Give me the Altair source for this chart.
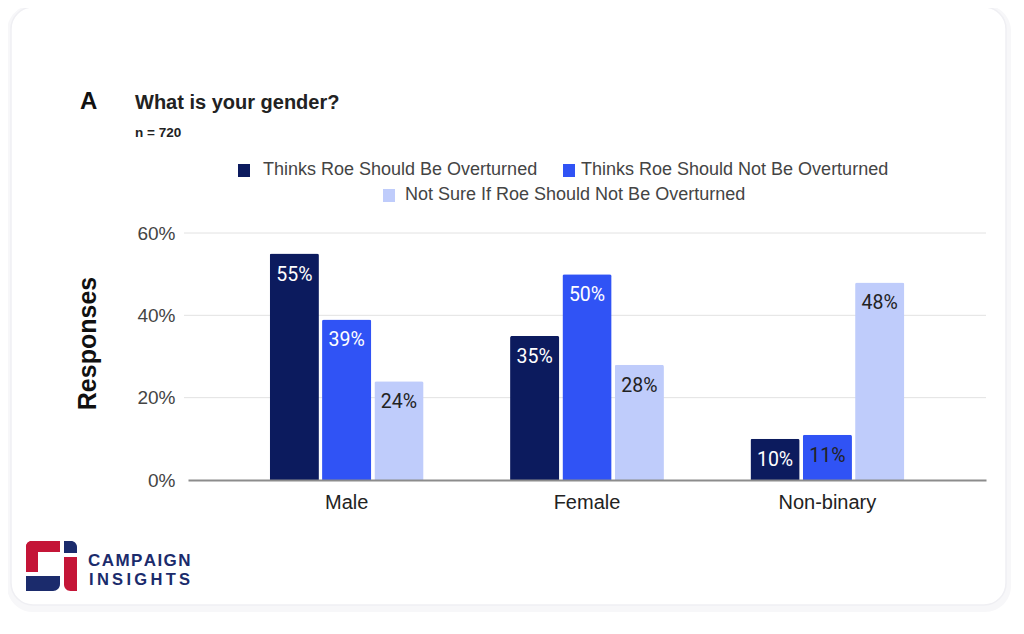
import altair as alt
import pandas as pd

# ---- data ----
genders = ["Male", "Female", "Non-binary"]
series = [
    "Thinks Roe Should Be Overturned",
    "Thinks Roe Should Not Be Overturned",
    "Not Sure If Roe Should Not Be Overturned",
]
overturned = [0.55, 0.35, 0.10]
not_overturned = [0.39, 0.50, 0.11]
not_sure = [0.24, 0.28, 0.48]
y_ticks = [0, 0.2, 0.4, 0.6]

# ---- styles ----
colors = ["#0c1b5e", "#3053f5", "#bfccfb"]
label_colors = {
    ("Male", 0): "#ffffff", ("Male", 1): "#ffffff", ("Male", 2): "#222222",
    ("Female", 0): "#ffffff", ("Female", 1): "#ffffff", ("Female", 2): "#222222",
    ("Non-binary", 0): "#ffffff", ("Non-binary", 1): "#222222", ("Non-binary", 2): "#222222",
}
FONT = "Liberation Sans"

rows = []
for si, vals in enumerate([overturned, not_overturned, not_sure]):
    for g, v in zip(genders, vals):
        rows.append({"gender": g, "series": series[si], "value": v,
                     "lab": label_colors[(g, si)]})
df = pd.DataFrame(rows)
grid_df = pd.DataFrame({"value": [t for t in y_ticks if t > 0]})
one = pd.DataFrame({"a": [0]})

W, H = 798, 247
OX, OY = 188, 233  # page position of plot origin


def px(x):
    return alt.value(x - OX)


def py(y):
    return alt.value(y - OY)


x_enc = alt.X(
    "gender:N", sort=genders,
    scale=alt.Scale(paddingInner=0.36, paddingOuter=0.34),
    axis=alt.Axis(title=None, labelAngle=0, labelFontSize=20, labelColor="#222222",
                  labelFont=FONT, labelPadding=12, ticks=False,
                  domainColor="#8c8c8c", domainWidth=2, zindex=1),
)
xoff = alt.XOffset("series:N", sort=series, scale=alt.Scale(paddingInner=0.06))
y_enc = alt.Y(
    "value:Q", scale=alt.Scale(domain=[0, 0.6], nice=False),
    axis=alt.Axis(values=y_ticks, format=".0%", grid=False, ticks=False, domain=False,
                  labelFontSize=19, labelColor="#444444", labelFont=FONT, labelPadding=13,
                  title="Responses", titleFontSize=25, titleFont=FONT, titleFontWeight="bold",
                  titleColor="#111111", titleAngle=-90, titleAlign="center",
                  titleBaseline="middle", titleX=-101, titleY=110, zindex=1),
)

# card background with faint shadow
shadow = alt.Chart(one).mark_rect(cornerRadius=26, fill="#f7f7f9").encode(
    x=px(7), x2=px(1011), y=py(5), y2=py(612))
card = alt.Chart(one).mark_rect(cornerRadius=22, fill="#ffffff", stroke="#efeff3",
                                strokeWidth=1.5).encode(
    x=px(11), x2=px(1006), y=py(7), y2=py(605))

grid = alt.Chart(grid_df).mark_rule(color="#e2e2e2", strokeWidth=1).encode(
    y=alt.Y("value:Q"), x=alt.value(-4), x2=alt.value(W))

bars = alt.Chart(df).mark_bar(cornerRadiusTopLeft=2, cornerRadiusTopRight=2).encode(
    x=x_enc, xOffset=xoff, y=y_enc,
    color=alt.Color("series:N", scale=alt.Scale(domain=series, range=colors), legend=None),
)

labels = alt.Chart(df).mark_text(baseline="alphabetic", dy=27, font="Roboto",
                                 fontSize=19.5, align="center").encode(
    x=alt.X("gender:N", sort=genders), xOffset=alt.XOffset("series:N", sort=series),
    y=alt.Y("value:Q"),
    text=alt.Text("value:Q", format=".0%"),
    color=alt.Color("lab:N", scale=None),
)


def txt(s, x, y, size, weight="normal", color="#222222", font=FONT, align="left"):
    return alt.Chart(one).mark_text(text=s, align=align, baseline="middle", fontSize=size,
                                    fontWeight=weight, color=color, font=font).encode(
        x=px(x), y=py(y))


def swatch(x, y, c):
    return alt.Chart(one).mark_rect(color=c).encode(
        x=px(x), x2=px(x + 12), y=py(y - 6), y2=py(y + 7))


titles = [
    txt("A", 80, 102, 24, "bold", "#111111"),
    txt("What is your gender?", 135, 103, 20, "bold", "#222222"),
    txt("n = 720", 135, 133, 13.5, "bold", "#222222"),
]
legend = [
    swatch(238, 170, colors[0]), txt(series[0], 263, 170, 18, color="#444444"),
    swatch(563, 170, colors[1]), txt(series[1], 581, 170, 18, color="#444444"),
    swatch(383, 195, colors[2]), txt(series[2], 405, 195, 18, color="#444444"),
]

navy = "#1b2b6c"
red = "#c41537"
logo = [
    alt.Chart(one).mark_rect(color=red, cornerRadiusTopLeft=7).encode(
        x=px(26), x2=px(60), y=py(541), y2=py(552)),
    alt.Chart(one).mark_rect(color=red, cornerRadiusTopLeft=7).encode(
        x=px(26), x2=px(38), y=py(541), y2=py(572)),
    alt.Chart(one).mark_rect(color=navy, cornerRadiusBottomRight=7).encode(
        x=px(26), x2=px(60), y=py(576), y2=py(591)),
    alt.Chart(one).mark_rect(color=navy, cornerRadiusTopRight=7).encode(
        x=px(64), x2=px(77), y=py(541), y2=py(553)),
    alt.Chart(one).mark_rect(color=red, cornerRadiusBottomLeft=7).encode(
        x=px(64), x2=px(77), y=py(557), y2=py(591)),
    txt("C\u200aA\u200aM\u200aP\u200aA\u200aI\u200aG\u200aN", 88, 561, 17, "bold", navy),
    txt("I\u2009N\u2009S\u2009I\u2009G\u2009H\u2009T\u2009S", 89, 580, 16.5, "bold", navy),
]

chart = alt.layer(shadow, card, grid, bars, labels, *titles, *legend, *logo).properties(
    width=W, height=H,
    autosize=alt.AutoSizeParams(type="none"),
    padding={"left": OX - 8, "top": OY - 8, "right": 1008 - (OX - 8) - W, "bottom": 616 - (OY - 8) - H},
    background="#ffffff",
).configure_view(stroke=None)

chart.save("out.html", embed_options={"renderer": "svg", "actions": False})
